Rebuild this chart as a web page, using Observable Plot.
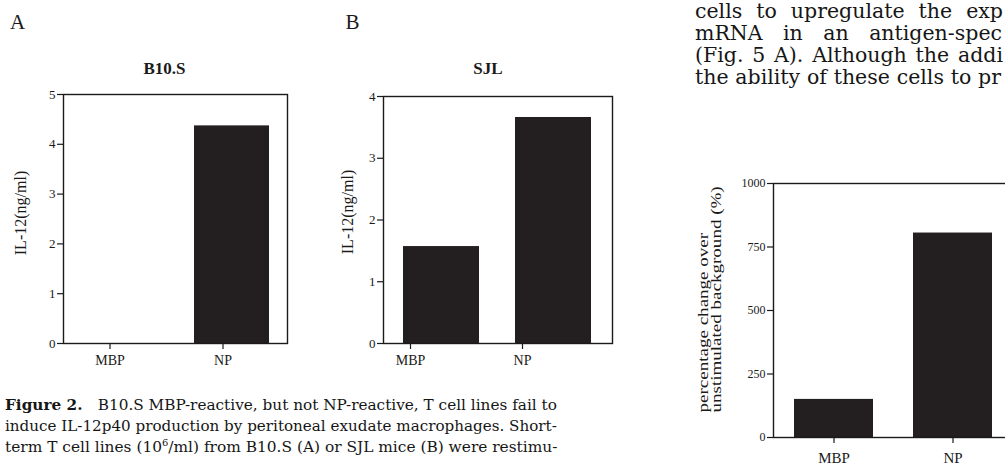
<!DOCTYPE html>
<html><head><meta charset="utf-8">
<script src="https://cdn.jsdelivr.net/npm/d3@7"></script>
<script src="https://cdn.jsdelivr.net/npm/@observablehq/plot@0.6"></script>
<style>
html,body{margin:0;padding:0;background:#fff;width:1005px;height:466px;overflow:hidden;position:relative}
.abs{position:absolute;top:0}
.abs svg{max-width:none !important}
.cap{position:absolute;left:5px;font-family:"DejaVu Serif";font-size:15.5px;white-space:nowrap;transform-origin:0 0;color:#161616;line-height:20px}
.cap b{font-weight:bold}
.txt{position:absolute;left:695px;font-family:"DejaVu Serif";font-size:20.5px;white-space:nowrap;color:#161616;line-height:22px}
</style></head><body>
<div id="pa" class="abs" style="left:0;width:300px"></div>
<div id="pb" class="abs" style="left:320px;width:300px"></div>
<div id="pc" class="abs" style="left:640px;width:380px"></div>

<div class="txt" data-w="308" style="top:0px">cells to upregulate the exp</div>
<div class="txt" data-w="307" style="top:22px">mRNA in an antigen-spec</div>
<div class="txt" data-w="308" style="top:44px">(Fig. 5 A). Although the addi</div>
<div class="txt" data-w="306" style="top:66px">the ability of these cells to pr</div>

<div class="cap" data-w="552" style="top:395px"><b>Figure 2.</b>&emsp;B10.S MBP-reactive, but not NP-reactive, T cell lines fail to</div>
<div class="cap" data-w="552" style="top:416px">induce IL-12p40 production by peritoneal exudate macrophages. Short-</div>
<div class="cap" data-w="552" style="top:437px">term T cell lines (10<sup style="font-size:10px;line-height:0">6</sup>/ml) from B10.S (A) or SJL mice (B) were restimu-</div>

<script>
const categories = ["MBP", "NP"];
const b10sValues = [0, 4.37];
const sjlValues = [1.57, 3.66];
const pctValues = [150, 805];
const b10sTicks = [0, 1, 2, 3, 4, 5];
const sjlTicks = [0, 1, 2, 3, 4];
const pctTicks = [0, 250, 500, 750, 1000];
const ilLabel = "IL-12(ng/ml)";
const pctLabel = "percentage change over\nunstimulated background (%)";

const barFill = "#231f20";
const ink = "#1a1a1a";

function panel(cfg) {
  const data = categories.map((c, i) => ({cat: c, value: cfg.values[i]}));
  const marks = [
    Plot.barY(data, {x: "cat", y: "value", fill: barFill}),
    Plot.frame({stroke: ink, strokeWidth: 1.4}),
    Plot.axisY({ticks: cfg.ticks, tickFormat: d => String(d), tickSize: 6, tickPadding: 2, label: null, fontSize: cfg.yTickFont, stroke: ink, strokeWidth: 1.2}),
    Plot.axisX({tickSize: 6, tickPadding: cfg.xPad, label: null, fontSize: cfg.xTickFont, dx: cfg.axisDx, stroke: ink, strokeWidth: 1.2}),
  ];
  if (cfg.ylabel) marks.push(Plot.text([cfg.ylabel], {frameAnchor: cfg.ylabelAnchor, rotate: -90, dx: cfg.ylabelDx, dy: cfg.ylabelDy, textAnchor: cfg.ylabelTextAnchor, lineAnchor: "middle", fontSize: cfg.ylabelFont, lineHeight: cfg.ylabelLH || 1, fill: ink}));
  if (cfg.title) marks.push(Plot.text([cfg.title], {frameAnchor: "top", dx: cfg.titleDx, dy: cfg.titleDy, textAnchor: "middle", lineAnchor: "middle", fontSize: 17, fontWeight: "bold", fill: ink}));
  if (cfg.letter) marks.push(Plot.text([cfg.letter], {frameAnchor: "top-left", dx: cfg.letterDx, dy: cfg.letterDy, textAnchor: "middle", lineAnchor: "middle", fontSize: 21, fill: ink}));
  const svg = Plot.plot({
    width: cfg.width, height: cfg.height,
    marginLeft: cfg.ml, marginRight: cfg.mr, marginTop: cfg.mt, marginBottom: cfg.mb,
    style: {fontFamily: "'Liberation Serif'", fontSize: "13px", color: ink, background: "transparent", overflow: "visible", maxWidth: "none"},
    x: {type: "band", domain: categories, paddingInner: cfg.pi, paddingOuter: cfg.po, align: 0.5, axis: null},
    y: {domain: [0, cfg.ticks[cfg.ticks.length - 1]], axis: null},
    marks
  });
  if (cfg.ylabelStretch) {
    svg.querySelectorAll("text").forEach(t => {
      if (t.textContent.includes("percentage")) {
        t.setAttribute("transform", (t.getAttribute("transform") || "") + ` scale(${cfg.ylabelStretch},1)`);
      }
    });
  }
  return svg;
}

document.getElementById("pa").append(panel({
  values: b10sValues, ticks: b10sTicks, width: 300, height: 380, ml: 63, mr: 13, mt: 94, mb: 37,
  pi: 0.333, po: 0.149, axisDx: -9, xPad: 6, yTickFont: 13, xTickFont: 14,
  ylabel: ilLabel, ylabelAnchor: "left", ylabelDx: -43, ylabelDy: -6, ylabelTextAnchor: "middle", ylabelFont: 16,
  title: "B10.S", titleDx: -11, titleDy: -26, letter: "A", letterDx: -46, letterDy: -72
}));
document.getElementById("pb").append(panel({
  values: sjlValues, ticks: sjlTicks, width: 300, height: 380, ml: 63, mr: 8, mt: 96, mb: 37,
  pi: 0.319, po: 0.173, axisDx: -31, xPad: 6, yTickFont: 13, xTickFont: 14,
  ylabel: ilLabel, ylabelAnchor: "left", ylabelDx: -36, ylabelDy: -8, ylabelTextAnchor: "middle", ylabelFont: 16,
  title: "SJL", titleDx: -10, titleDy: -28, letter: "B", letterDx: -31, letterDy: -74
}));
document.getElementById("pc").append(panel({
  values: pctValues, ticks: pctTicks, width: 380, height: 466, ml: 133, mr: 7, mt: 183, mb: 29,
  pi: 0.333, po: 0.1667, axisDx: 0, xPad: 9, yTickFont: 12, xTickFont: 15,
  ylabel: pctLabel, ylabelAnchor: "bottom-left", ylabelDx: -63, ylabelDy: -25, ylabelTextAnchor: "start", ylabelFont: 14, ylabelLH: 0.95, ylabelStretch: 1.36
}));

document.querySelectorAll(".cap").forEach(el => {
  const w = +el.dataset.w;
  const nat = el.scrollWidth;
  el.style.transform = `scaleX(${w / nat})`;
});
document.querySelectorAll(".txt").forEach(el => {
  const w = +el.dataset.w;
  const gaps = (el.textContent.match(/ /g) || []).length;
  const nat = el.getBoundingClientRect().width;
  if (gaps) el.style.wordSpacing = ((w - nat) / gaps) + "px";
});
</script>
</body></html>
